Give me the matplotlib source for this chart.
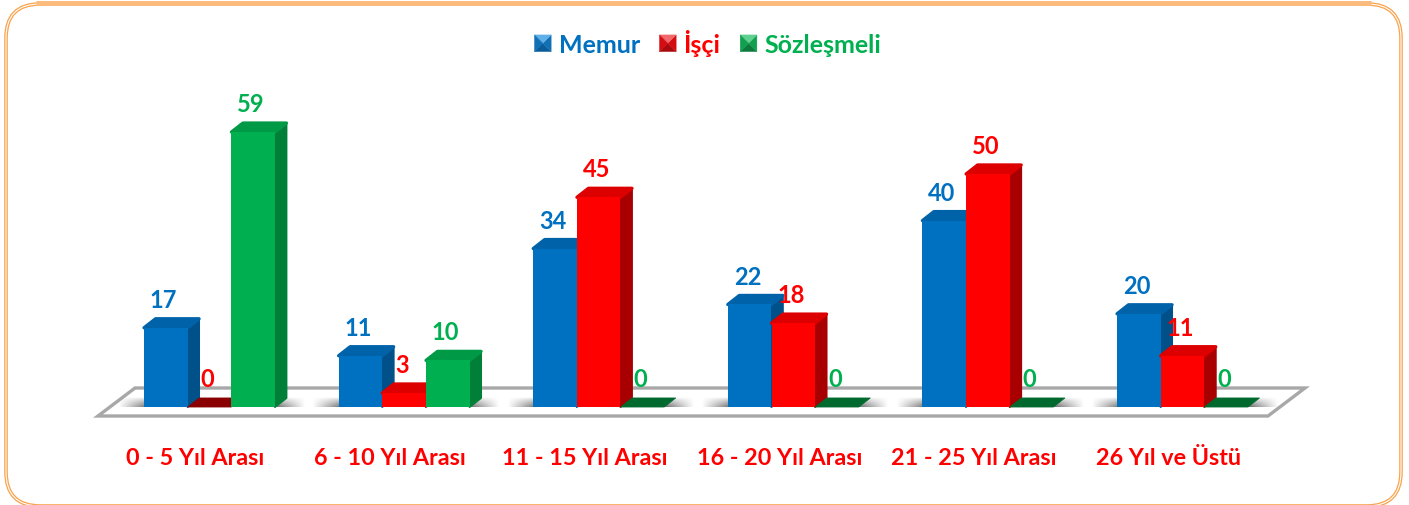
import numpy as np
import matplotlib
matplotlib.use("Agg")
import matplotlib.pyplot as plt
from matplotlib.patches import Polygon, FancyBboxPatch, Patch
from matplotlib.legend_handler import HandlerBase

categories = ["0 - 5 Yıl Arası", "6 - 10 Yıl Arası", "11 - 15 Yıl Arası",
              "16 - 20 Yıl Arası", "21 - 25 Yıl Arası", "26 Yıl ve Üstü"]
memur = [17, 11, 34, 22, 40, 20]
isci = [0, 3, 45, 18, 50, 11]
sozlesmeli = [59, 10, 0, 0, 0, 0]
series_names = ["Memur", "İşçi", "Sözleşmeli"]

plt.rcParams["font.family"] = ["Lato", "DejaVu Sans"]
W, H = 1409, 506
fig = plt.figure(figsize=(W / 100, H / 100), dpi=100, facecolor="white")

# decoration layer in pixels
deco = fig.add_axes([0, 0, 1, 1], zorder=0)
deco.set_xlim(0, W); deco.set_ylim(H, 0); deco.axis("off")
for lw, col in ((2.6, "#F9A24B"), (0.8, "white")):
    deco.add_patch(FancyBboxPatch((36, 35), 1335, 442, boxstyle="round,pad=30,rounding_size=34",
                                  fc="none", ec=col, lw=lw, clip_on=True))
deco.plot([36, 1371], [4, 4], color="#FBBB7C", lw=3.6, solid_capstyle="butt")

# chart axes: x in groups, y in values
PX = 194.6   # pixels per group
PY = 4.66    # pixels per unit
X0, Y0 = 209.5, 408
ax = fig.add_axes([0, 0, 1, 1], zorder=1)
ax.set_xlim(-X0 / PX, (W - X0) / PX)
ax.set_ylim(-(H - Y0) / PY, Y0 / PY)
ax.axis("off")
ax.patch.set_alpha(0)

bw = 43.5 / PX
dx = 11.5 / PX
dy = 9 / PY
x = np.arange(len(categories))
floor_l, floor_r = -111.5 / PX, (1268 - X0) / PX
floor_b = -9 / PY
floor_dx, floor_dy = 37 / PX, 28 / PY
ax.add_patch(Polygon([(floor_l, floor_b), (floor_r, floor_b),
                      (floor_r + floor_dx, floor_b + floor_dy), (floor_l + floor_dx, floor_b + floor_dy)],
                     closed=True, fc="white", ec="#A8A8A8", lw=2.4, joinstyle="miter", zorder=1))

# soft shadows on the floor
grad = np.zeros((20, 100, 4))
prof = np.concatenate([np.linspace(0, 1, 16), np.ones(68), np.linspace(1, 0, 16)])
vert = np.linspace(1, 0, 20)[:, None] ** 0.8
grad[..., :3] = 0.35
grad[..., 3] = 0.85 * prof[None, :] * vert
for xi in x:
    ax.imshow(grad, extent=(xi - 92 / PX, xi + 96 / PX, 0, dy + 1 / PY), origin="lower",
              aspect="auto", zorder=2, interpolation="bilinear")
ax.set_xlim(-X0 / PX, (W - X0) / PX)
ax.set_ylim(-(H - Y0) / PY, Y0 / PY)

styles = [("#0070C0", "#0062A8", "#00508A", "#00508A"),
          ("#FF0000", "#DC0000", "#A80000", "#8A0000"),
          ("#00B050", "#009A46", "#007F39", "#006A2E")]
offsets = [-1, 0, 1]
z = 3
for vals, off, (front, top, side, flat), name in zip((memur, isci, sozlesmeli), offsets, styles, series_names):
    pos = x + off * 43.7 / PX
    for p, v in zip(pos, vals):
        l, r = p - bw / 2, p + bw / 2
        if v == 0:
            ax.add_patch(Polygon([(l, 0), (r, 0), (r + dx, dy), (l + dx, dy)], closed=True,
                                 fc=flat, ec=flat, lw=0.6, joinstyle="round", zorder=z))
        else:
            ax.add_patch(Polygon([(r, 0), (r + dx, dy), (r + dx, v + dy), (r, v)], closed=True,
                                 fc=side, ec=side, lw=1.4, joinstyle="round", zorder=z))
            ax.add_patch(Polygon([(l, v), (r, v), (r + dx, v + dy), (l + dx, v + dy)], closed=True,
                                 fc=top, ec=top, lw=2.4, joinstyle="round", zorder=z))
            ax.bar(p, v, width=bw, color=front, zorder=z + 0.1, linewidth=0)
        z += 0.2
    for p, v in zip(pos, vals):
        ax.annotate(str(v), (p, v + dy), xytext=(-1.6, 14), textcoords="offset points",
                    ha="center", va="center", fontsize=17, fontweight="bold",
                    color=front, zorder=20)

for xi, c in zip(x, categories):
    ax.text(xi - 14 / PX, -(459 - Y0) / PY, c, ha="center", va="center", fontsize=16.8,
            fontweight="bold", color="#FF0000", zorder=20)


class PyramidHandler(HandlerBase):
    def __init__(self, base, light, dark):
        super().__init__()
        self.c = (base, light, dark)

    def create_artists(self, legend, orig, xd, yd, w, h, fs, trans):
        base, light, dark = self.c
        s = 12.0
        x0, y0 = (w - s) / 2 - xd, (h - s) / 2 - yd
        m = (x0 + s / 2, y0 + s / 2)
        a, b, c, d = (x0, y0), (x0 + s, y0), (x0 + s, y0 + s), (x0, y0 + s)
        out = []
        for pts, col in (((a, b, m), dark), ((b, c, m), base), ((c, d, m), light), ((d, a, m), base)):
            out.append(Polygon(pts, closed=True, fc=col, ec=col, lw=0.3, transform=trans))
        return out


handles = [Patch(label=n) for n in series_names]
hmap = {handles[0]: PyramidHandler("#1270B5", "#5FB0E8", "#0B5C9A"),
        handles[1]: PyramidHandler("#D40D12", "#F2696C", "#A80A0E"),
        handles[2]: PyramidHandler("#12A050", "#5FD08F", "#0B7A3C")}
leg = ax.legend(handles=handles, handler_map=hmap, ncol=3, frameon=False,
                loc="center", bbox_to_anchor=(707.5 / W, 1 - 43.5 / H), bbox_transform=fig.transFigure,
                handlelength=0.72, handleheight=0.7, handletextpad=0.27, columnspacing=0.76,
                borderpad=0, borderaxespad=0, prop={"weight": "bold", "size": 18})
leg.set_zorder(30)
for t, (front, *_ ) in zip(leg.get_texts(), styles):
    t.set_color(front)

fig.savefig("out.png", dpi=100, facecolor="white")
